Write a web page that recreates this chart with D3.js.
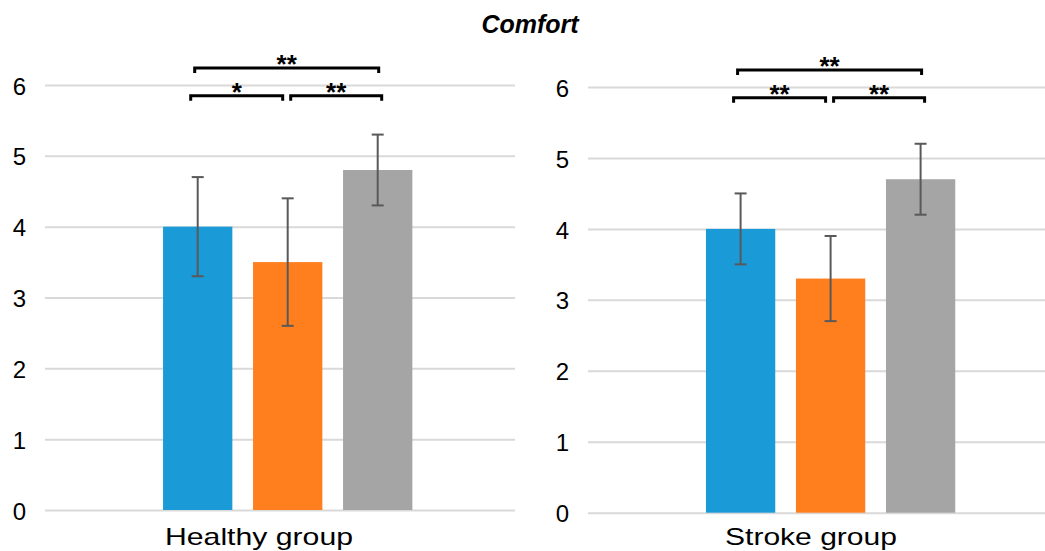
<!DOCTYPE html>
<html>
<head>
<meta charset="utf-8">
<script src="https://cdn.jsdelivr.net/npm/d3@7/dist/d3.min.js"></script>
<style>
  html, body { margin: 0; padding: 0; background: #fff; }
  svg { display: block; font-family: "Liberation Sans", Arial, sans-serif; }
</style>
</head>
<body>
<div id="chart"></div>
<script>
// values
const title = "Comfort";
const groups = ["Healthy group", "Stroke group"];
const conditions = ["Condition 1", "Condition 2", "Condition 3"];
const colors = ["#1a9bd7", "#ff7f1f", "#a5a5a5"];
const yTicks = [0, 1, 2, 3, 4, 5, 6];

const healthyMeans = [4.0, 3.5, 4.8];
const healthyErrors = [0.7, 0.9, 0.5];
const strokeMeans = [4.0, 3.3, 4.7];
const strokeErrors = [0.5, 0.6, 0.5];

// significance brackets: condition index pairs, label, stacking level
const healthySig = [
    { from: 0, to: 1, label: "*", level: 0 },
    { from: 1, to: 2, label: "**", level: 0 },
    { from: 0, to: 2, label: "**", level: 1 }
];
const strokeSig = [
    { from: 0, to: 1, label: "**", level: 0 },
    { from: 1, to: 2, label: "**", level: 0 },
    { from: 0, to: 2, label: "**", level: 1 }
];
const bracketLevels = [5.85, 6.24];

const width = 1045, height = 551;

const svg = d3.select('#chart')
    .append('svg')
    .attr('width', width)
    .attr('height', height);

svg.append('rect').attr('width', width).attr('height', height).attr('fill', '#fff');

svg.append('text')
    .attr('x', 530)
    .attr('y', 33)
    .attr('text-anchor', 'middle')
    .attr('font-size', 25)
    .attr('font-weight', 'bold')
    .attr('font-style', 'italic')
    .text(title);

const panels = [
    { group: groups[0], means: healthyMeans, errors: healthyErrors, sig: healthySig,
      gridX0: 45, gridX1: 515, yZero: 510, yTop: 85, bars: [152.7, 422.7], labelX: 259, labelW: 188 },
    { group: groups[1], means: strokeMeans, errors: strokeErrors, sig: strokeSig,
      gridX0: 588, gridX1: 1045, yZero: 512.7, yTop: 87, bars: [695.6, 965.6], labelX: 811, labelW: 172 }
];

panels.forEach(p => drawPanel(p));

function drawPanel(p) {
    const yScale = d3.scaleLinear().domain([0, 6]).range([p.yZero, p.yTop]);
    const xScale = d3.scaleBand()
        .domain(conditions)
        .range(p.bars)
        .paddingInner(0.23)
        .paddingOuter(0.115);

    const g = svg.append('g');

    // y axis with gridlines
    const yAxis = g.append('g')
        .attr('transform', `translate(${p.gridX0},0)`)
        .call(d3.axisLeft(yScale)
            .tickValues(yTicks)
            .tickSize(-(p.gridX1 - p.gridX0))
            .tickPadding(19)
            .tickFormat(d3.format('d')));
    yAxis.select('.domain').remove();
    yAxis.selectAll('.tick line')
        .attr('stroke', '#d9d9d9')
        .attr('stroke-width', 2);
    yAxis.selectAll('.tick text')
        .attr('font-size', 24)
        .attr('font-family', '"Liberation Sans", Arial, sans-serif')
        .attr('fill', '#000')
        .attr('dy', '0.38em');

    const data = conditions.map((c, i) => ({ cond: c, mean: p.means[i], err: p.errors[i], color: colors[i] }));

    g.selectAll('.bar')
        .data(data)
        .join('rect')
        .attr('class', 'bar')
        .attr('x', d => xScale(d.cond))
        .attr('y', d => yScale(d.mean))
        .attr('width', xScale.bandwidth())
        .attr('height', d => yScale(0) - yScale(d.mean))
        .attr('fill', d => d.color);

    // error bars
    const eb = g.selectAll('.err')
        .data(data)
        .join('g')
        .attr('class', 'err')
        .attr('stroke', '#595959')
        .attr('stroke-width', 2);
    const cx = d => xScale(d.cond) + xScale.bandwidth() / 2;
    eb.append('line')
        .attr('x1', cx).attr('x2', cx)
        .attr('y1', d => yScale(d.mean + d.err))
        .attr('y2', d => yScale(d.mean - d.err));
    eb.append('line')
        .attr('x1', d => cx(d) - 6).attr('x2', d => cx(d) + 6)
        .attr('y1', d => yScale(d.mean + d.err))
        .attr('y2', d => yScale(d.mean + d.err));
    eb.append('line')
        .attr('x1', d => cx(d) - 6).attr('x2', d => cx(d) + 6)
        .attr('y1', d => yScale(d.mean - d.err))
        .attr('y2', d => yScale(d.mean - d.err));

    // significance brackets
    const centre = i => xScale(conditions[i]) + xScale.bandwidth() / 2;
    p.sig.forEach(s => {
        let x1, x2;
        if (s.level === 1) {
            x1 = centre(s.from) - 3; x2 = centre(s.to) + 1;
        } else if (s.from === 0) {
            x1 = centre(s.from) - 7; x2 = centre(s.to) - 5;
        } else {
            x1 = centre(s.from) + 3; x2 = centre(s.to) + 4;
        }
        const y = yScale(bracketLevels[s.level]);
        g.append('path')
            .attr('d', `M${x1},${y + 5}V${y}H${x2}V${y + 5}`)
            .attr('fill', 'none')
            .attr('stroke', '#000')
            .attr('stroke-width', 3);
        g.append('text')
            .attr('x', (x1 + x2) / 2)
            .attr('y', y + 5)
            .attr('text-anchor', 'middle')
            .attr('font-size', 26)
            .attr('font-weight', 'bold')
            .text(s.label);
    });

    // category label
    g.append('text')
        .attr('x', p.labelX)
        .attr('y', 545)
        .attr('text-anchor', 'middle')
        .attr('font-size', 24)
        .attr('textLength', p.labelW)
        .attr('lengthAdjust', 'spacingAndGlyphs')
        .text(p.group);
}
</script>
</body>
</html>
